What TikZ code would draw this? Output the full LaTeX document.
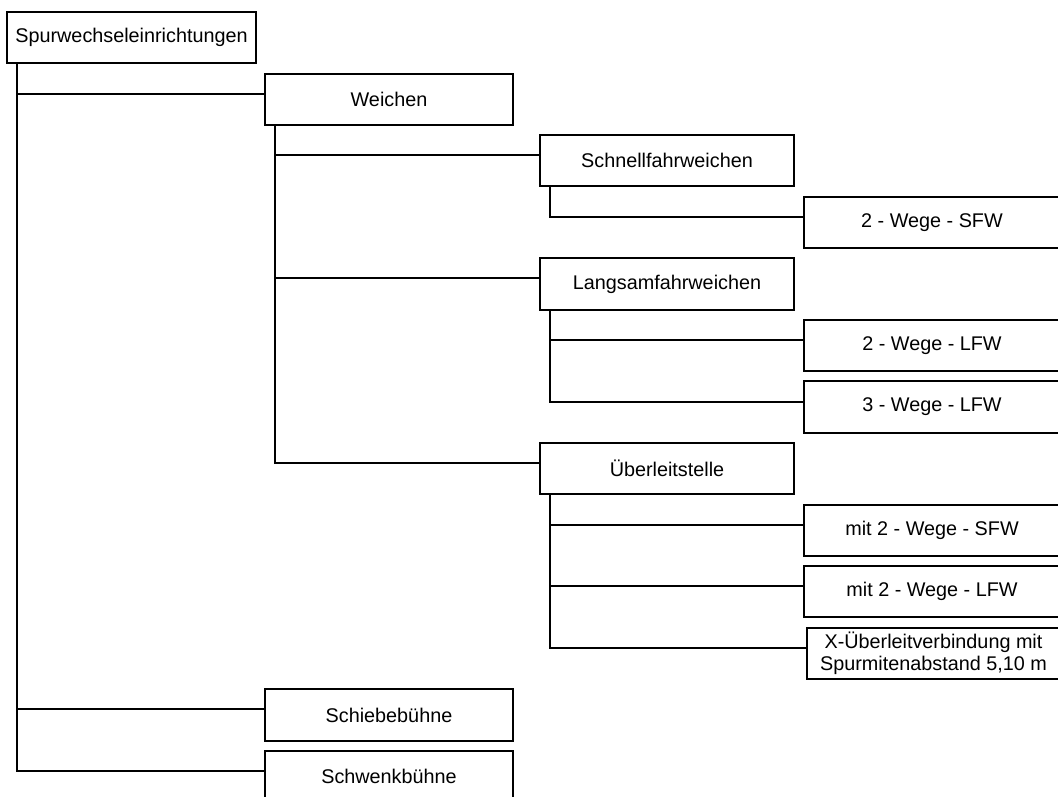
\documentclass[tikz,border=0pt]{standalone}
\usepackage{fontspec}
\setmainfont{Liberation Sans}
\begin{document}
\begin{tikzpicture}[x=1pt,y=-1pt,
  box/.style={draw=black, line width=1.1pt, rectangle, anchor=north west, inner sep=0pt, outer sep=0pt,
    font=\fontsize{19.8}{22}\selectfont, align=center},
  b1/.style={box, minimum width=249pt, minimum height=51pt},
  b2/.style={box, minimum width=254pt, minimum height=51pt},
  b3/.style={box, minimum width=256pt, minimum height=51pt},
  conn/.style={draw=black, line width=1.1pt}]
\useasboundingbox (0,0) rectangle (1058,796);
\clip (0,0) rectangle (1058,796);
\fill[white] (0,0) rectangle (1058,796);
% level 0
\node[b1] (root) at (7,12) {Spurwechseleinrichtungen};
% level 1
\node[b1, minimum width=248pt] (weichen) at (265,74) {Weichen};
\node[b1, minimum width=248pt, minimum height=52pt] (schieb) at (265,689) {Schiebebühne};
\node[b1, minimum width=248pt] (schwenk) at (265,751) {Schwenkbühne};
% level 2
\node[b2] (schnell) at (540,135) {Schnellfahrweichen};
\node[b2, minimum height=52pt] (langsam) at (540,258) {Langsamfahrweichen};
\node[b2] (ueber) at (540,443) {Überleitstelle};
% level 3
\node[b3] (sfw) at (804,197) {2 - Wege - SFW};
\node[b3] (lfw2) at (804,320) {2 - Wege - LFW};
\node[b3, minimum height=52pt] (lfw3) at (804,381) {3 - Wege - LFW};
\node[b3] (msfw) at (804,505) {mit 2 - Wege - SFW};
\node[b3] (mlfw) at (804,566) {mit 2 - Wege - LFW};
\node[b3, minimum width=253pt] (xub) at (807,628) {X-Überleitverbindung mit\\Spurmitenabstand 5,10 m};
% connectors
\draw[conn] ([xshift=10pt]root.south west) |- ([yshift=-20pt]weichen.north west);
\draw[conn] ([xshift=10pt]root.south west) |- ([yshift=-20pt]schieb.north west);
\draw[conn] ([xshift=10pt]root.south west) |- ([yshift=-20pt]schwenk.north west);
\draw[conn] ([xshift=10pt]weichen.south west) |- ([yshift=-20pt]schnell.north west);
\draw[conn] ([xshift=10pt]weichen.south west) |- ([yshift=-20pt]langsam.north west);
\draw[conn] ([xshift=10pt]weichen.south west) |- ([yshift=-20pt]ueber.north west);
\draw[conn] ([xshift=10pt]schnell.south west) |- ([yshift=-20pt]sfw.north west);
\draw[conn] ([xshift=10pt]langsam.south west) |- ([yshift=-20pt]lfw2.north west);
\draw[conn] ([xshift=10pt]langsam.south west) |- ([yshift=-21pt]lfw3.north west);
\draw[conn] ([xshift=10pt]ueber.south west) |- ([yshift=-20pt]msfw.north west);
\draw[conn] ([xshift=10pt]ueber.south west) |- ([yshift=-20pt]mlfw.north west);
\draw[conn] ([xshift=10pt]ueber.south west) |- ([yshift=-20pt]xub.north west);
\end{tikzpicture}
\end{document}
